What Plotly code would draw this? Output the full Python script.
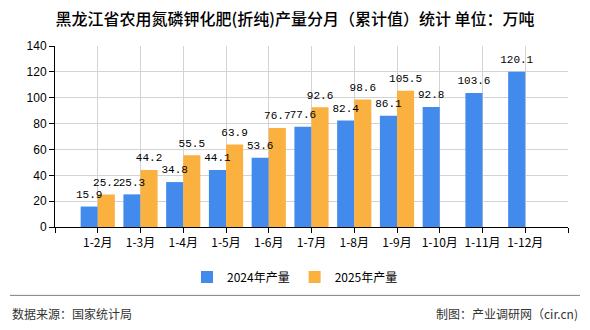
import plotly.graph_objects as go

categories = ["1-2月", "1-3月", "1-4月", "1-5月", "1-6月", "1-7月", "1-8月", "1-9月", "1-10月", "1-11月", "1-12月"]
values_2024 = [15.9, 25.3, 34.8, 44.1, 53.6, 77.6, 82.4, 86.1, 92.8, 103.6, 120.1]
values_2025 = [25.2, 44.2, 55.5, 63.9, 76.7, 92.6, 98.6, 105.5, None, None, None]
y_ticks = [0, 20, 40, 60, 80, 100, 120, 140]

positions = list(range(1, len(categories) + 1))

L, R, T, B = 55, 22, 46, 101
W, H = 590, 330
pw, ph = W - L - R, H - T - B
BAR_OFFSET = 0.2


def px(x):
    return (x - L) / pw


def py(y):
    return (H - B - y) / ph


def fmt(v):
    return "" if v is None else f"{v:.1f}"


label_font = dict(family="Liberation Mono, DejaVu Sans Mono, monospace", size=11, color="#000000")

fig = go.Figure()
fig.add_trace(go.Bar(
    x=positions, y=values_2024, name="2024年产量",
    marker=dict(color="#428BEC", line=dict(width=0)),
))
fig.add_trace(go.Bar(
    x=positions, y=values_2025, name="2025年产量",
    marker=dict(color="#FBB13F", line=dict(width=0)),
))
for vals, off in ((values_2024, -BAR_OFFSET), (values_2025, BAR_OFFSET)):
    xs = [p + off for p, v in zip(positions, vals) if v is not None]
    ys = [v for v in vals if v is not None]
    fig.add_trace(go.Scatter(
        x=xs, y=ys, mode="markers+text", text=[fmt(v) for v in ys],
        marker=dict(size=8, opacity=0),
        textposition="top center", textfont=label_font,
        showlegend=False, hoverinfo="skip", cliponaxis=False,
    ))

fig.update_layout(
    width=W, height=H,
    margin=dict(l=L, r=R, t=T, b=B),
    paper_bgcolor="white", plot_bgcolor="white",
    barmode="group", bargap=0.2, bargroupgap=0,
    font=dict(family="Noto Sans CJK SC, sans-serif", size=12, color="#000000"),
    showlegend=True,
    legend=dict(
        orientation="h", xref="container", yref="container",
        x=0.5, xanchor="center", y=1 - 277 / H, yanchor="middle",
        font=dict(size=12, color="#000000"), itemwidth=30,
        traceorder="normal",
    ),
    title=dict(
        text="黑龙江省农用氮磷钾化肥(折纯)产量分月（累计值）统计 单位：万吨",
        xref="container", yref="container", x=0.5, xanchor="center",
        y=1 - 19 / H, yanchor="middle",
        font=dict(family="Noto Sans CJK SC, sans-serif", size=16, color="#000000", weight=500),
    ),
)

fig.update_xaxes(
    range=[0, 12],
    tickvals=list(range(0, 13)),
    ticktext=[""] + categories + [""],
    showgrid=True, gridcolor="#D3D3D3", gridwidth=1,
    showline=True, linecolor="#000000", linewidth=1,
    ticks="outside", ticklen=5, tickcolor="#000000",
    tickfont=dict(family="Noto Sans CJK SC, sans-serif", size=12, color="#000000"),
    zeroline=False, fixedrange=True,
)
fig.update_yaxes(
    range=[0, 140],
    tickvals=y_ticks,
    showgrid=True, gridcolor="#D3D3D3", gridwidth=1,
    showline=True, linecolor="#000000", linewidth=1,
    ticks="outside", ticklen=5, tickcolor="#000000",
    tickfont=dict(family="Liberation Sans, Arial, sans-serif", size=12, color="#000000"),
    zeroline=False, fixedrange=True,
)

fig.add_shape(type="line", xref="paper", yref="paper",
              x0=px(10), x1=px(580), y0=py(298), y1=py(298),
              line=dict(color="#808080", width=1))

fig.add_annotation(text="数据来源：国家统计局", xref="paper", yref="paper",
                   x=px(10), y=py(316), xanchor="left", yanchor="middle", showarrow=False,
                   font=dict(family="Noto Sans CJK SC, sans-serif", size=12, color="#333333"))
fig.add_annotation(text="制图：产业调研网（cir.cn)", xref="paper", yref="paper",
                   x=px(580), y=py(316), xanchor="right", yanchor="middle", showarrow=False,
                   font=dict(family="Noto Sans CJK SC, sans-serif", size=12, color="#333333"))

fig.write_html("out.html")
